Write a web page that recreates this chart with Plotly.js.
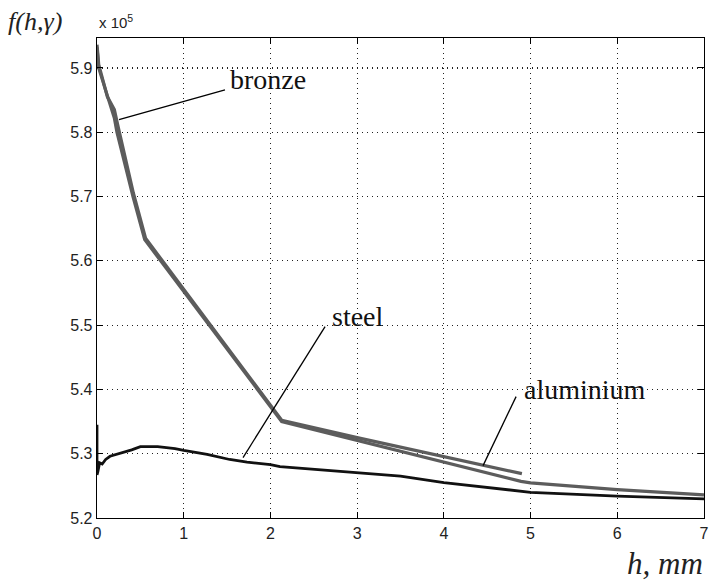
<!DOCTYPE html>
<html>
<head>
<meta charset="utf-8">
<script src="https://cdn.plot.ly/plotly-3.0.1.min.js"></script>
<style>html,body{margin:0;padding:0;background:#fff;}#chart{width:711px;height:582px;}</style>
</head>
<body>
<div id="chart"></div>
<script>
// values in units of 10^5
const steelH = [0, 0, 0.01, 0.03, 0.06, 0.1, 0.15, 0.2, 0.3, 0.4, 0.5, 0.7, 0.9, 1.0, 1.27, 1.53, 1.73, 2.0, 2.11, 3.0, 3.5, 4.0, 5.0, 6.0, 7.0];
const steelF = [5.345, 5.267, 5.272, 5.286, 5.284, 5.291, 5.296, 5.298, 5.301, 5.306, 5.311, 5.311, 5.308, 5.305, 5.299, 5.291, 5.287, 5.283, 5.280, 5.271, 5.265, 5.255, 5.240, 5.234, 5.2297];

const bronzeH = [0, 0.02, 0.1, 0.2, 0.23, 0.415, 0.55, 2.13, 4.89, 5.0, 6.0, 7.0];
const bronzeF = [5.932, 5.900, 5.865, 5.822, 5.800, 5.700, 5.633, 5.350, 5.257, 5.2546, 5.244, 5.236];

const aluH = [0, 0.02, 0.12, 0.2, 0.25, 0.42, 0.56, 2.13, 3.0, 4.0, 4.9];
const aluF = [5.936, 5.905, 5.855, 5.835, 5.805, 5.705, 5.635, 5.352, 5.325, 5.295, 5.269];

const yTicks = [5.2, 5.3, 5.4, 5.5, 5.6, 5.7, 5.8, 5.9];
const yTickText = ['5.2', '5.3', '5.4', '5.5', '5.6', '5.7', '5.8', '5.9'];
const xTicks = [0, 1, 2, 3, 4, 5, 6, 7];

// label pointers: [x0, y0, x1, y1]
const bronzePtr = [0.254, 5.8196, 1.476, 5.866];
const steelPtr = [2.63, 5.4977, 1.684, 5.294];
const aluPtr = [4.833, 5.3888, 4.452, 5.2815];

const gray = '#5c5c5c';
const traces = [
  {x: aluH, y: aluF, mode: 'lines', line: {color: gray, width: 3.2}, name: 'aluminium', hoverinfo: 'skip'},
  {x: bronzeH, y: bronzeF, mode: 'lines', line: {color: gray, width: 3.2}, name: 'bronze', hoverinfo: 'skip'},
  {x: steelH, y: steelF, mode: 'lines', line: {color: '#111', width: 2.8}, name: 'steel', hoverinfo: 'skip'}
];

function ptr(p) {
  return {type: 'line', xref: 'x', yref: 'y', x0: p[0], y0: p[1], x1: p[2], y1: p[3], line: {color: '#000', width: 1.3}};
}

const serif = 'Liberation Serif, Times New Roman, serif';
const labelFont = {family: serif, size: 28, color: '#111'};
const tickFont = {family: 'Liberation Sans, Arial, sans-serif', size: 16, color: '#222'};

const axisCommon = {
  showgrid: true, gridcolor: '#222', griddash: '1px,4px', gridwidth: 1.2,
  zeroline: false, showline: true, linecolor: '#000', linewidth: 1.3, mirror: 'ticks',
  ticks: 'inside', ticklen: 6, tickcolor: '#000', tickfont: tickFont
};

const layout = {
  width: 711, height: 582,
  margin: {l: 97, r: 7, t: 38, b: 64, pad: 0},
  paper_bgcolor: '#fff', plot_bgcolor: '#fff',
  showlegend: false,
  xaxis: Object.assign({range: [0, 7], tickvals: xTicks, ticktext: xTicks.map(String)}, axisCommon),
  yaxis: Object.assign({range: [5.2, 5.9465], tickvals: yTicks, ticktext: yTickText}, axisCommon),
  shapes: [ptr(bronzePtr), ptr(steelPtr), ptr(aluPtr)],
  annotations: [
    {text: 'bronze', x: 1.511, y: 5.8824, xref: 'x', yref: 'y', xanchor: 'left', yanchor: 'middle', showarrow: false, font: labelFont},
    {text: 'steel', x: 2.687, y: 5.5138, xref: 'x', yref: 'y', xanchor: 'left', yanchor: 'middle', showarrow: false, font: labelFont},
    {text: 'aluminium', x: 4.898, y: 5.4003, xref: 'x', yref: 'y', xanchor: 'left', yanchor: 'middle', showarrow: false, font: labelFont},
    {text: '<i>f(h,γ)</i>', x: -0.150, y: 1.035, xref: 'paper', yref: 'paper', xanchor: 'left', yanchor: 'middle', showarrow: false, font: {family: serif, size: 26, color: '#222'}},
    {text: 'x 10<sup>5</sup>', x: 0.0, y: 1.035, xref: 'paper', yref: 'paper', xanchor: 'left', yanchor: 'middle', showarrow: false, font: {family: 'Liberation Sans, Arial, sans-serif', size: 15, color: '#222'}},
    {text: '<i>h, mm</i>', x: 1.002, y: -0.094, xref: 'paper', yref: 'paper', xanchor: 'right', yanchor: 'middle', showarrow: false, font: {family: serif, size: 31, color: '#222'}}
  ]
};

Plotly.newPlot('chart', traces, layout, {displayModeBar: false, staticPlot: true});
</script>
</body>
</html>
